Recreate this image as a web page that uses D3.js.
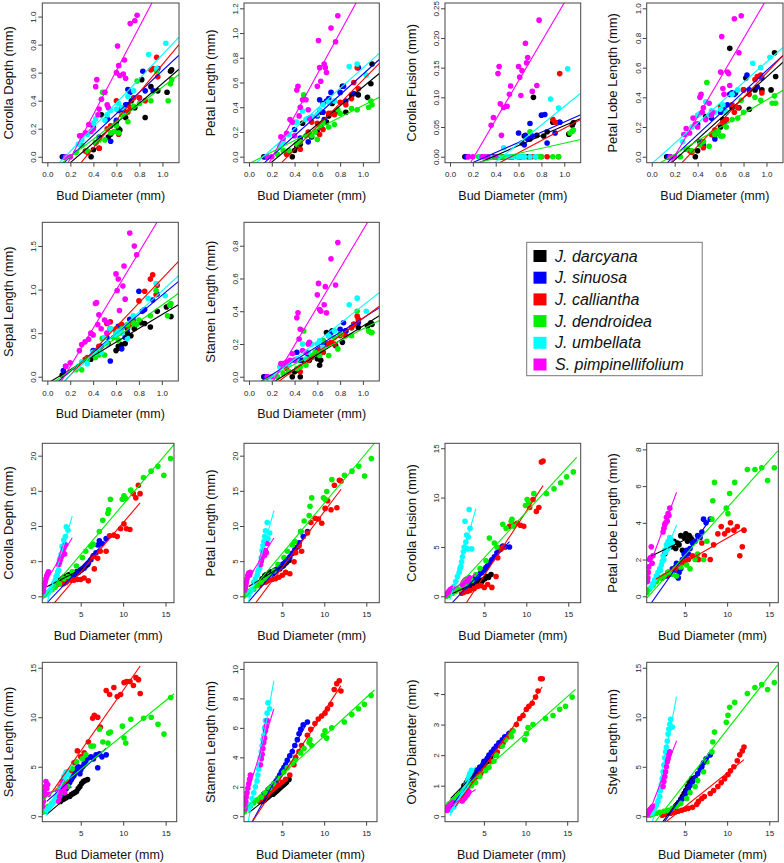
<!DOCTYPE html>
<html><head><meta charset="utf-8">
<script src="https://cdn.jsdelivr.net/npm/d3@7"></script>
<style>body{margin:0;background:#fff}svg{display:block}</style>
</head><body><svg id="c" width="784" height="863"></svg>
<script>
// ---------- species ----------
const species = ["J. darcyana","J. sinuosa","J. calliantha","J. dendroidea","J. umbellata","S. pimpinellifolium"];
const colors = ["#000000","#0000ff","#ff0000","#00ee00","#00ffff","#ff00ff"];

// ---------- small buds (mm) : order = species ----------
const budSmall = [
 [0.13,0.38,0.40,0.42,0.45,0.47,0.53,0.55,0.60,0.62,0.63,0.65,0.68,0.70,0.73,0.76,0.82,0.85,0.90,0.96,1.04,1.07,1.08],
 [0.14,0.16,0.40,0.42,0.45,0.52,0.55,0.60,0.62,0.65,0.66,0.68,0.70,0.72,0.80,0.83,0.85,0.92,0.96],
 [0.33,0.35,0.45,0.52,0.55,0.60,0.62,0.65,0.70,0.72,0.75,0.80,0.85,0.90,0.92,0.95,0.96],
 [0.25,0.30,0.35,0.42,0.45,0.48,0.50,0.55,0.58,0.60,0.62,0.65,0.70,0.75,0.78,0.80,0.90,0.95,1.05,1.07,1.08],
 [0.27,0.30,0.35,0.40,0.42,0.47,0.50,0.52,0.55,0.60,0.62,0.65,0.70,0.75,0.88,0.95,1.03],
 [0.16,0.20,0.28,0.30,0.33,0.36,0.38,0.40,0.42,0.43,0.44,0.45,0.47,0.50,0.52,0.53,0.60,0.61,0.62,0.63,0.66,0.67,0.68,0.72,0.76,0.78]
];
const corollaDepthSmall = [
 [0,0,0.05,0.10,0.06,0.30,0.14,0.16,0.25,0.20,0.19,0.33,0.28,0.37,0.40,0.35,0.55,0.28,0.50,0.47,0.46,0.61,0.62],
 [0,0,0.21,0.10,0.14,0.27,0.11,0.26,0.33,0.35,0.33,0.37,0.48,0.46,0.42,0.61,0.47,0.47,0.63],
 [0.04,0.03,0.06,0.20,0.22,0.40,0.16,0.30,0.32,0.35,0.42,0.42,0.40,0.62,0.63,0.71,0.57],
 [0.03,0.08,0.04,0.10,0.12,0.46,0.12,0.17,0.18,0.22,0.17,0.30,0.25,0.36,0.54,0.38,0.40,0.61,0.40,0.52,0.55],
 [0.09,0.12,0.16,0.24,0.27,0.41,0.26,0.30,0.33,0.34,0.38,0.35,0.43,0.47,0.73,0.63,0.81],
 [0,0,0.15,0.15,0.17,0.23,0.18,0.20,0.50,0.55,0.30,0.34,0.41,0.46,0.37,0.35,0.60,0.79,0.65,0.58,0.59,0.69,0.56,0.95,0.97,1.01]
];
const petalLengthSmall = [
 [0,0,0.05,0.08,0.10,0.27,0.18,0.16,0.20,0.36,0.24,0.43,0.28,0.33,0.43,0.36,0.57,0.36,0.50,0.50,0.48,0.59,0.75],
 [0,0,0.22,0.10,0.15,0.12,0.32,0.33,0.46,0.36,0.30,0.45,0.47,0.52,0.52,0.57,0.45,0.51,0.72],
 [0.02,0.04,0.06,0.20,0.28,0.27,0.18,0.22,0.35,0.35,0.34,0.44,0.42,0.47,0.60,0.72,0.55],
 [0.02,0.05,0.05,0.10,0.12,0.50,0.17,0.17,0.20,0.14,0.25,0.28,0.24,0.26,0.38,0.35,0.39,0.38,0.40,0.45,0.42],
 [0.09,0.12,0.18,0.28,0.28,0.37,0.30,0.31,0.32,0.34,0.38,0.42,0.44,0.45,0.73,0.75,0.66],
 [0,0,0.16,0.15,0.19,0.30,0.28,0.17,0.54,0.57,0.33,0.40,0.46,0.46,0.38,0.31,0.57,0.94,0.72,0.61,0.75,0.72,0.68,1.04,0.93,1.14]
];
const corollaFusionSmall = [
 [0,0,0,0,0,0,0,0,0,0,0.023,0.035,0,0.03,0.10,0.036,0.035,0.042,0.058,0.058,0.038,0.053,0.057],
 [0,0,0,0,0,0,0,0.04,0,0.02,0.036,0.03,0.056,0.035,0.07,0.071,0.023,0.04,0.058],
 [0,0,0,0,0,0,0,0,0,0,0,0,0,0.063,0.058,0,0.14],
 [0,0,0,0,0,0,0,0,0,0,0,0,0.042,0,0,0,0,0,0.04,0.043,0.045],
 [0,0,0,0,0,0.015,0,0,0,0,0,0,0,0,0.097,0.082,0.148],
 [0,0,0,0,0,0.053,0.066,0,0.14,0.152,0.089,0.036,0.083,0.085,0.105,0.119,0.152,0.134,0.103,0.145,0.191,0.158,0.167,0.11,0.12,0.23]
];
const petalLobeSmall = [
 [0,0,0.04,0.10,0.10,0.27,0.15,0.15,0.20,0.25,0.23,0.30,0.73,0.33,0.43,0.33,0.53,0.32,0.45,0.45,0.45,0.70,0.54],
 [0,0,0.22,0.10,0.08,0.26,0.12,0.30,0.33,0.25,0.35,0.42,0.43,0.42,0.45,0.55,0.45,0.47,0.53],
 [0.04,0.03,0.06,0.15,0.18,0.34,0.23,0.25,0.35,0.30,0.33,0.45,0.42,0.52,0.54,0.55,0.43],
 [0.0,0.05,0.04,0.08,0.10,0.50,0.07,0.15,0.17,0.14,0.14,0.20,0.25,0.26,0.38,0.30,0.40,0.38,0.36,0.41,0.36],
 [0.10,0.15,0.20,0.28,0.29,0.37,0.28,0.31,0.30,0.32,0.35,0.30,0.42,0.45,0.63,0.60,0.67],
 [0,0,0.15,0.19,0.16,0.26,0.22,0.20,0.40,0.42,0.30,0.33,0.25,0.36,0.28,0.30,0.57,0.81,0.46,0.42,0.57,0.56,0.48,0.93,0.70,0.95]
];
const sepalLengthSmall = [
 [0.02,0.20,0.25,0.25,0.30,0.35,0.38,0.55,0.30,0.35,0.33,0.37,0.38,0.50,0.47,0.55,0.62,0.61,0.57,0.75,0.80,0.82,0.69],
 [0.07,0.12,0.30,0.27,0.30,0.45,0.18,0.53,0.58,0.32,0.58,0.45,0.55,0.66,0.98,0.75,0.77,0.88,0.95],
 [0.20,0.22,0.35,0.61,0.63,0.55,0.52,0.60,0.58,0.60,0.65,0.87,0.98,1.12,1.17,0.94,1.05],
 [0.08,0.08,0.20,0.22,0.25,0.44,0.25,0.55,0.45,0.50,0.42,0.55,0.60,0.62,0.60,0.65,0.70,0.99,0.70,0.82,0.84],
 [0.12,0.17,0.15,0.28,0.27,0.28,0.45,0.38,0.55,0.48,0.52,0.50,0.44,0.70,0.90,1.07,0.93],
 [0.12,0.16,0.30,0.37,0.40,0.43,0.50,0.48,0.84,0.85,0.60,0.71,0.55,0.65,0.50,0.62,1.18,0.99,1.12,0.76,1.04,1.27,0.89,1.65,1.50,1.40]
];
const stamenLengthSmall = [
 [0,0,0.03,0.04,0,0.10,0.10,0.12,0.11,0.07,0.10,0.15,0.27,0.20,0.28,0.19,0.21,0.28,0.30,0.30,0.31,0.33,0.32],
 [0,0,0.10,0.15,0.10,0.13,0.12,0.16,0.17,0.22,0.20,0.20,0.25,0.27,0.29,0.33,0.28,0.32,0.33],
 [0.05,0.03,0.03,0.10,0.12,0.15,0.17,0.15,0.20,0.21,0.20,0.25,0.25,0.30,0.32,0.37,0.35],
 [0.0,0.02,0.03,0.05,0.06,0.28,0.07,0.13,0.15,0.14,0.13,0.22,0.13,0.24,0.17,0.26,0.25,0.40,0.28,0.27,0.27],
 [0.06,0.08,0.08,0.10,0.11,0.20,0.11,0.15,0.20,0.20,0.22,0.18,0.25,0.28,0.44,0.48,0.40],
 [0,0,0.08,0.08,0.09,0.10,0.14,0.10,0.36,0.39,0.23,0.29,0.16,0.15,0.20,0.21,0.50,0.57,0.41,0.40,0.44,0.55,0.39,0.72,0.56,0.82]
];

// ---------- large buds (mm) ----------
const budLarge = [
 [2.6,2.9,3.1,3.3,3.5,3.7,3.9,4.1,4.3,4.5,4.7,4.9,5.1,5.3,5.5,5.8],
 [2.8,3.0,3.3,3.5,3.7,3.9,4.0,4.2,4.3,4.5,4.7,4.9,5.0,5.2,5.4,5.6,5.9,6.2,6.5,6.8,7.0,7.2,7.5,8.0],
 [2.3,2.6,3.0,3.3,3.8,4.2,4.6,5.0,5.4,5.9,6.4,6.6,7.0,7.3,8.0,8.4,8.9,9.3,9.7,10.1,10.4,10.8,11.2,11.5,11.8,12.0],
 [0.5,0.8,1.2,1.6,2.0,2.5,3.0,3.5,4.0,4.5,5.2,5.6,6.2,6.5,7.2,7.6,8.2,8.3,8.5,9.9,10.1,10.3,10.9,12.4,13.3,14.1,14.8,15.6],
 [1.0,1.2,1.4,1.6,1.8,2.0,2.1,2.2,2.3,2.4,2.5,2.6,2.7,2.8,2.9,3.0,3.1,3.2,3.3,3.5],
 [0.55,0.6,0.65,0.7,0.8,0.9,1.0,1.1,1.2,2.4,2.5,2.6,2.7,2.8,2.9,3.0,3.1,3.2]
];
const lineRangeLarge = [[1.0,6.0],[1.0,8.0],[1.5,12.0],[0.5,16.0],[0.9,4.0],[0.6,4.0]];
const corollaDepthLarge = [
 [2.3,2.6,2.8,2.7,3.0,3.1,3.0,3.3,3.2,3.5,3.4,3.7,3.8,4.0,4.2,4.5],
 [1.8,2.0,2.3,2.5,2.6,2.8,2.9,3.0,3.2,3.3,3.4,3.6,3.7,3.9,4.0,4.3,4.7,5.2,5.8,6.2,7.3,7.9,7.5,8.2],
 [1.7,1.8,1.8,2.0,2.3,2.3,2.4,2.4,2.6,2.2,5.6,3.9,5.4,6.4,6.4,8.6,8.7,8.5,9.6,10.3,9.6,9.5,14.6,14.0,15.8,14.6],
 [0.2,0.2,0.6,0.9,1.3,1.8,2.5,2.8,3.5,4.3,5.5,6.4,7.1,7.4,9.2,10.8,11.8,12.3,13.8,13.8,14.3,13.9,15.1,16.9,17.8,18.5,17.2,19.6],
 [0.3,0.5,0.9,1.4,1.8,2.3,2.8,3.0,3.5,3.7,5.2,5.5,6.0,7.1,6.5,8.0,7.5,8.5,9.9,9.4],
 [0.6,0.9,1.3,1.6,2.0,2.5,2.9,3.2,3.5,4.5,4.8,5.2,5.6,5.9,6.3,6.8,6.0,7.3]
];
const petalLengthLarge = [
 [2.5,2.9,3.1,3.0,3.4,3.5,3.2,3.7,3.6,4.0,3.9,4.2,4.3,4.6,4.8,5.1],
 [2.2,2.4,2.7,3.0,3.1,3.3,3.4,3.6,3.8,3.9,4.1,4.3,4.5,4.7,4.9,5.2,5.6,6.1,6.6,7.0,7.6,9.2,8.5,9.2],
 [1.6,1.9,2.0,2.2,2.4,2.5,2.7,3.0,3.4,3.2,4.9,6.2,7.2,6.4,9.0,10.5,11.1,11.0,10.4,12.5,13.6,12.3,15.8,12.6,16.5,16.4],
 [0.2,0.3,0.8,1.0,1.5,2.0,2.5,3.0,3.6,4.5,5.5,6.4,7.3,7.8,9.2,10.7,11.5,12.8,14.0,14.0,13.8,14.9,16.6,17.2,17.8,18.5,17.1,19.6],
 [0.2,0.6,1.0,2.0,2.5,3.0,3.5,3.8,4.0,4.5,5.5,6.5,7.2,7.8,8.5,9.3,7.5,10.5,8.2,9.0],
 [0.9,1.2,1.6,2.0,2.5,3.0,3.3,3.0,3.4,4.5,5.0,5.5,6.0,6.3,5.8,6.5,6.2,7.5]
];
const corollaFusionLarge = [
 [0.9,1.0,1.1,1.0,1.2,1.3,1.2,1.4,1.5,1.6,1.5,1.7,1.8,2.0,1.9,2.2],
 [1.0,1.1,1.3,1.4,1.6,1.8,1.9,2.0,2.1,2.3,2.4,2.6,2.7,2.9,3.1,3.4,3.7,4.0,4.4,4.7,4.9,5.1,5.0,5.0],
 [0.3,0.4,0.5,0.6,0.8,1.0,1.1,0.9,1.2,0.9,2.0,3.9,4.8,5.0,7.1,7.3,7.4,7.2,7.1,9.2,9.0,9.8,8.6,9.0,13.6,13.7],
 [0.0,0.1,0.3,0.5,0.7,1.0,1.3,1.6,2.2,2.8,3.6,5.9,5.4,5.0,7.3,6.9,7.6,7.8,7.1,9.2,9.8,9.4,10.4,10.4,10.9,11.5,12.1,12.6],
 [0.3,0.5,1.0,1.5,2.0,2.4,2.8,3.0,3.5,4.0,4.5,5.0,7.6,5.5,6.2,4.8,6.0,8.8,6.9,4.8],
 [0.2,0.1,0.3,0.4,0.5,0.6,0.7,0.6,0.8,1.2,1.4,1.5,1.6,1.7,1.5,1.8,1.6,1.9]
];
const petalLobeLarge = [
 [2.3,2.6,2.8,2.9,2.7,3.0,2.6,2.9,2.8,3.3,2.5,3.2,3.4,3.0,3.3,3.1],
 [1.1,1.3,1.2,1.5,1.4,1.6,1.8,1.0,1.3,1.5,2.0,2.3,2.2,2.5,2.3,2.6,2.9,3.0,3.3,3.2,3.5,4.2,4.0,4.2],
 [1.0,1.1,1.2,1.3,1.5,1.6,1.8,1.9,2.0,2.2,2.1,2.0,2.9,2.2,2.0,2.8,3.4,3.8,3.4,3.6,4.0,3.6,3.8,2.2,2.7,3.6],
 [0.2,0.4,0.6,0.8,1.0,1.1,1.3,1.2,1.1,1.6,1.7,1.5,2.0,2.3,2.0,3.0,4.2,5.2,6.2,4.8,4.5,5.6,6.2,6.9,6.9,7.0,6.3,7.0],
 [0.5,0.7,0.9,1.1,1.3,1.5,1.4,1.7,1.9,2.2,2.0,2.5,2.4,2.8,2.6,3.0,2.7,3.2,3.1,2.9],
 [0.8,1.0,1.3,1.6,2.0,2.1,2.7,1.8,2.2,3.5,3.7,3.9,4.0,4.3,4.1,4.5,4.4,4.8]
];
const sepalLengthLarge = [
 [1.5,1.7,1.8,1.9,2.0,2.0,2.2,2.3,2.4,2.5,2.8,3.0,3.3,3.5,3.6,3.7],
 [2.2,2.5,2.8,3.0,3.4,3.7,3.9,4.1,4.5,4.8,5.0,4.3,4.7,5.0,5.3,5.6,5.9,6.0,5.8,6.2,4.9,6.3,6.0,6.2],
 [2.6,3.0,3.3,3.5,4.6,5.4,6.6,6.0,6.4,7.5,9.9,10.2,10.0,9.0,12.7,12.3,13.0,12.1,12.3,13.5,13.6,13.6,13.2,14.0,13.8,12.4],
 [0.4,0.5,1.0,1.3,1.6,2.0,2.4,3.0,4.8,5.5,5.8,6.2,7.1,7.1,8.8,7.5,7.4,8.4,8.5,9.1,7.9,7.4,9.8,9.9,10.0,9.3,8.3,12.0],
 [0.6,0.8,1.0,1.2,1.5,1.7,1.9,2.0,2.2,2.4,2.5,2.8,3.0,3.3,3.6,4.0,3.8,4.3,4.5,4.2],
 [1.0,1.5,2.0,2.5,3.0,3.5,2.8,3.2,2.2,1.5,2.0,2.5,3.0,3.5,2.6,3.2,2.4,3.0]
];
const stamenLengthLarge = [
 [1.0,1.1,1.2,1.3,1.4,1.5,1.5,1.6,1.7,1.8,1.9,2.0,2.1,2.2,2.3,2.5],
 [1.5,1.6,1.8,1.9,2.0,2.1,2.2,2.3,2.4,2.6,2.8,3.0,3.1,3.3,3.5,3.8,4.1,4.4,4.8,5.2,5.6,5.9,6.2,6.4],
 [1.0,1.2,1.4,1.5,1.7,1.9,2.1,2.3,2.5,2.8,3.5,4.0,4.4,4.8,5.5,5.9,6.3,6.6,6.8,7.0,7.3,7.6,8.6,9.0,9.2,8.5],
 [0.3,0.5,0.7,0.9,1.1,1.3,1.6,1.9,2.2,2.6,3.0,3.3,3.6,3.8,4.3,4.6,5.0,5.2,4.8,5.5,5.8,5.3,6.0,6.4,6.9,7.3,7.6,8.2],
 [0.5,0.8,1.2,1.6,2.0,2.4,2.8,3.2,3.5,4.0,4.4,4.8,5.2,5.5,6.0,6.5,6.2,7.0,7.7,7.3],
 [0.5,0.7,1.0,1.3,1.6,1.9,2.2,2.5,2.8,3.5,3.9,4.2,4.6,5.0,5.3,5.8,6.1,6.5]
];
const ovaryDiameterLarge = [
 [1.0,1.1,1.2,1.2,1.3,1.3,1.4,1.5,1.5,1.6,1.6,1.7,1.7,1.8,1.8,1.9],
 [0.9,1.0,1.1,1.2,1.2,1.3,1.4,1.4,1.5,1.6,1.6,1.7,1.8,1.8,1.9,2.0,2.1,2.2,2.3,2.4,2.4,2.5,2.6,2.7],
 [0.8,0.9,1.0,1.1,1.2,1.3,1.4,1.5,1.6,1.8,2.0,2.1,2.3,2.4,2.6,2.8,3.0,3.2,3.3,3.5,3.6,3.7,3.9,4.1,4.5,4.5],
 [0.3,0.4,0.5,0.6,0.7,0.8,0.9,1.0,1.1,1.3,1.5,1.6,1.8,2.0,2.3,2.5,2.7,2.6,2.8,2.5,2.7,2.9,3.0,3.2,3.3,3.5,3.6,3.9],
 [0.2,0.3,0.3,0.4,0.5,0.5,0.6,0.6,0.7,0.7,0.8,0.8,0.9,1.0,1.0,1.1,1.2,1.3,1.4,1.5],
 [0.2,0.2,0.25,0.3,0.3,0.35,0.4,0.4,0.45,0.5,0.55,0.6,0.6,0.65,0.7,0.7,0.75,0.8]
];
const styleLengthLarge = [
 [0.2,0.3,0.4,0.5,0.6,0.8,1.0,1.2,1.4,1.7,2.0,2.3,2.6,3.0,3.4,3.8],
 [0.3,0.4,0.5,0.6,0.8,1.0,1.1,1.3,1.4,1.6,1.8,2.0,2.2,2.5,2.8,3.1,3.5,3.9,4.3,4.7,5.0,5.4,5.8,6.2],
 [0.1,0.2,0.3,0.3,0.4,0.5,0.6,0.7,0.8,0.9,1.2,1.5,1.8,2.0,2.3,2.6,3.0,3.4,3.8,4.2,4.6,5.0,5.6,6.2,6.6,7.0],
 [0.1,0.1,0.2,0.3,0.4,0.5,0.6,0.8,1.0,1.3,1.8,2.4,3.0,3.6,4.5,5.5,6.5,7.5,8.5,9.5,10.2,11.0,11.5,12.4,13.0,13.3,12.8,13.5],
 [0.3,0.5,0.8,1.1,1.5,2.0,2.6,3.2,3.8,4.5,5.2,5.9,6.5,7.0,7.6,8.3,8.8,9.3,9.8,9.0],
 [0.2,0.3,0.4,0.5,0.6,0.7,0.8,0.9,1.0,3.0,3.5,4.0,4.5,5.0,5.5,5.8,6.2,6.5]
];

// ---------- tick labels ----------
const xTicksSmall = [0,0.2,0.4,0.6,0.8,1.0];
const xTicksLarge = [5,10,15];

// ---------- layout ----------
const panels = [
 {lab:"Corolla Depth (mm)", g:"s", v:corollaDepthSmall, box:[42.3,3,179,162.7], yDom:[-0.0426,1.097], yT:[0,0.2,0.4,0.6,0.8,1.0], f:".1f"},
 {lab:"Petal Length (mm)", g:"s", v:petalLengthSmall, box:[244,3,379.3,162.7], yDom:[-0.0485,1.243], yT:[0,0.2,0.4,0.6,0.8,1.0,1.2], f:".1f"},
 {lab:"Corolla Fusion (mm)", g:"s", v:corollaFusionSmall, box:[445,3,580.7,162.7], yDom:[-0.0101,0.2589], yT:[0,0.05,0.1,0.15,0.2,0.25], f:".2f"},
 {lab:"Petal Lobe Length (mm)", g:"s", v:petalLobeSmall, box:[646.7,3,783,162.7], yDom:[-0.0404,1.0357], yT:[0,0.2,0.4,0.6,0.8,1.0], f:".1f"},
 {lab:"Sepal Length (mm)", g:"s", v:sepalLengthSmall, box:[42.3,222.3,178.3,381], yDom:[-0.049,1.772], yT:[0,0.5,1.0,1.5], f:".1f"},
 {lab:"Stamen Length (mm)", g:"s", v:stamenLengthSmall, box:[244,222.3,379.3,381], yDom:[-0.026,0.943], yT:[0,0.2,0.4,0.6,0.8], f:".1f"},
 {lab:"Corolla Depth (mm)", g:"l", v:corollaDepthLarge, box:[42.3,443.3,174,602.7], xDom:[0.47,16.0], yDom:[-0.91,21.76], yT:[0,5,10,15,20], f:"d"},
 {lab:"Petal Length (mm)", g:"l", v:petalLengthLarge, box:[244,443.3,379.3,602.7], xDom:[0.44,16.55], yDom:[-0.91,21.76], yT:[0,5,10,15,20], f:"d"},
 {lab:"Corolla Fusion (mm)", g:"l", v:corollaFusionLarge, box:[445,443.3,580.7,602.7], xDom:[0.32,16.48], yDom:[-0.65,15.5], yT:[0,5,10,15], f:"d"},
 {lab:"Petal Lobe Length (mm)", g:"l", v:petalLobeLarge, box:[646.7,443.3,778.3,602.7], xDom:[0.46,16.07], yDom:[-0.35,8.33], yT:[0,2,4,6,8], f:"d"},
 {lab:"Sepal Length (mm)", g:"l", v:sepalLengthLarge, box:[42.3,662.3,176.7,821.7], xDom:[0.47,16.3], yDom:[-0.55,15.55], yT:[0,5,10,15], f:"d"},
 {lab:"Stamen Length (mm)", g:"l", v:stamenLengthLarge, box:[244,662.3,377,821.7], xDom:[0.44,16.3], yDom:[-0.37,10.45], yT:[0,2,4,6,8,10], f:"d"},
 {lab:"Ovary Diameter (mm)", g:"l", v:ovaryDiameterLarge, box:[445,662.3,578,821.7], xDom:[0.32,16.3], yDom:[-0.18,5.04], yT:[0,1,2,3,4], f:"d"},
 {lab:"Style Length (mm)", g:"l", v:styleLengthLarge, box:[646.7,662.3,778.3,821.7], xDom:[0.46,16.07], yDom:[-0.55,15.55], yT:[0,5,10,15], f:"d"}
];

const FONT = "'Liberation Sans', Arial, Helvetica, sans-serif";
const svg = d3.select("#c");
svg.append("rect").attr("width",784).attr("height",863).attr("fill","#fff");

function fit(xs, ys){
  const n = xs.length, mx = d3.mean(xs), my = d3.mean(ys);
  let sxy = 0, sxx = 0;
  for (let i=0;i<n;i++){ sxy += (xs[i]-mx)*(ys[i]-my); sxx += (xs[i]-mx)**2; }
  const b = sxy/sxx; return {b, a: my - b*mx};
}

panels.forEach((p, pi) => {
  const [L,T,R,B] = p.box;
  const bud = p.g === "s" ? budSmall : budLarge;
  const xDom = p.g === "s" ? [-0.044, 1.144] : p.xDom;
  const x = d3.scaleLinear().domain(xDom).range([L,R]);
  const y = d3.scaleLinear().domain(p.yDom).range([B,T]);
  const g = svg.append("g");
  const cid = "clip" + pi;
  g.append("clipPath").attr("id", cid).append("rect").attr("x",L).attr("y",T).attr("width",R-L).attr("height",B-T);
  const plot = g.append("g").attr("clip-path", `url(#${cid})`);

  species.forEach((s,k) => {
    const pts = bud[k].map((xv,j) => [xv, p.v[k][j]]).filter(d => d[1] != null);
    plot.append("g").selectAll("circle").data(pts).join("circle")
      .attr("cx", d => x(d[0])).attr("cy", d => y(d[1])).attr("r", 2.8).attr("fill", colors[k]);
  });
  species.forEach((s,k) => {
    const xs = bud[k].slice(0, p.v[k].length), ys = p.v[k];
    const {a,b} = fit(xs, ys);
    const ext = p.g === "s" ? xDom : lineRangeLarge[k];
    plot.append("line")
      .attr("x1", x(ext[0])).attr("y1", y(a + b*ext[0]))
      .attr("x2", x(ext[1])).attr("y2", y(a + b*ext[1]))
      .attr("stroke", colors[k]).attr("stroke-width", 1.1);
  });
  g.append("rect").attr("x",L).attr("y",T).attr("width",R-L).attr("height",B-T)
    .attr("fill","none").attr("stroke","#444").attr("stroke-width",1);

  const xt = p.g === "s" ? xTicksSmall : xTicksLarge;
  const ax = g.append("g").attr("transform",`translate(0,${B})`)
    .call(d3.axisBottom(x).tickValues(xt).tickSize(4).tickPadding(5)
      .tickFormat(p.g === "s" ? d3.format(".1f") : d3.format("d")));
  ax.select(".domain").remove();
  ax.selectAll("line").attr("stroke","#444");
  ax.selectAll("text").attr("font-family",FONT).attr("font-size",8).attr("fill","#222");

  const ay = g.append("g").attr("transform",`translate(${L},0)`)
    .call(d3.axisLeft(y).tickValues(p.yT).tickSize(4).tickFormat(d3.format(p.f)));
  ay.select(".domain").remove();
  ay.selectAll("line").attr("stroke","#444");
  ay.selectAll("text").attr("font-family",FONT).attr("font-size",8).attr("fill","#222")
    .attr("transform","rotate(-90)").attr("x",0).attr("y",-6).attr("dy",0)
    .attr("text-anchor","middle");

  g.append("text").attr("x",(L+R)/2).attr("y",B+33).attr("dy","0.35em")
    .attr("text-anchor","middle").attr("font-family",FONT).attr("font-size",12.5)
    .attr("fill","#111").text("Bud Diameter (mm)");
  g.append("text").attr("transform",`translate(${L-34},${(T+B)/2}) rotate(-90)`)
    .attr("dy","0.35em").attr("text-anchor","middle").attr("font-family",FONT)
    .attr("font-size",13).attr("fill","#111").text(p.lab);
});

const lg = svg.append("g");
lg.append("rect").attr("x",526.7).attr("y",242.3).attr("width",175.5).attr("height",133.4)
  .attr("fill","#fff").attr("stroke","#777").attr("stroke-width",1);
species.forEach((s,k) => {
  const cy = 256 + k*21.7;
  lg.append("rect").attr("x",533.5).attr("y",cy-6).attr("width",13).attr("height",12).attr("fill",colors[k]);
  lg.append("text").attr("x",555).attr("y",cy+5.6).attr("font-family",FONT).attr("font-style","italic")
    .attr("font-size",16).attr("fill","#111").text(s);
});
</script></body></html>
